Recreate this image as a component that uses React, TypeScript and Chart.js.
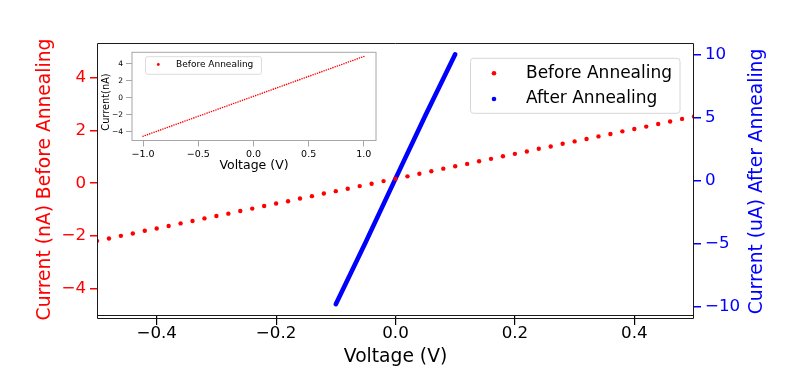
import React, { useEffect, useRef } from "react";
import { Chart, registerables } from "chart.js";

Chart.register(...registerables);

// ---- Data ----
const voltage = [
  -1.0, -0.98, -0.96, -0.94, -0.92, -0.9, -0.88, -0.86, -0.84, -0.82,
  -0.8, -0.78, -0.76, -0.74, -0.72, -0.7, -0.68, -0.66, -0.64, -0.62,
  -0.6, -0.58, -0.56, -0.54, -0.52, -0.5, -0.48, -0.46, -0.44, -0.42,
  -0.4, -0.38, -0.36, -0.34, -0.32, -0.3, -0.28, -0.26, -0.24, -0.22,
  -0.2, -0.18, -0.16, -0.14, -0.12, -0.1, -0.08, -0.06, -0.04, -0.02,
  0.0, 0.02, 0.04, 0.06, 0.08, 0.1, 0.12, 0.14, 0.16, 0.18,
  0.2, 0.22, 0.24, 0.26, 0.28, 0.3, 0.32, 0.34, 0.36, 0.38,
  0.4, 0.42, 0.44, 0.46, 0.48, 0.5, 0.52, 0.54, 0.56, 0.58,
  0.6, 0.62, 0.64, 0.66, 0.68, 0.7, 0.72, 0.74, 0.76, 0.78,
  0.8, 0.82, 0.84, 0.86, 0.88, 0.9, 0.92, 0.94, 0.96, 0.98,
  1.0,
];

// Current before annealing (nA)
const currentBefore = [
  -4.53, -4.44, -4.34, -4.25, -4.15, -4.06, -3.97, -3.87, -3.78, -3.68,
  -3.59, -3.5, -3.4, -3.31, -3.21, -3.12, -3.03, -2.93, -2.84, -2.74,
  -2.65, -2.56, -2.46, -2.37, -2.27, -2.18, -2.09, -1.99, -1.9, -1.8,
  -1.71, -1.62, -1.52, -1.43, -1.33, -1.24, -1.15, -1.05, -0.96, -0.86,
  -0.77, -0.68, -0.58, -0.49, -0.39, -0.3, -0.21, -0.11, -0.02, 0.08,
  0.17, 0.26, 0.36, 0.45, 0.55, 0.64, 0.73, 0.83, 0.92, 1.02,
  1.11, 1.2, 1.3, 1.39, 1.49, 1.58, 1.67, 1.77, 1.86, 1.96,
  2.05, 2.14, 2.24, 2.33, 2.43, 2.52, 2.61, 2.71, 2.8, 2.9,
  2.99, 3.08, 3.18, 3.27, 3.37, 3.46, 3.55, 3.65, 3.74, 3.84,
  3.93, 4.02, 4.12, 4.21, 4.31, 4.4, 4.49, 4.59, 4.68, 4.78,
  4.87,
];

// After annealing (uA) – dense sweep
const voltageAfter = [-0.1, -0.05, 0.0, 0.05, 0.1];
const currentAfter = [-9.8, -4.9, 0.15, 5.15, 10.0];

const xTicksMain = [-0.4, -0.2, 0.0, 0.2, 0.4];
const yTicksBefore = [-4, -2, 0, 2, 4];
const yTicksAfter = [-10, -5, 0, 5, 10];
const xTicksInset = [-1.0, -0.5, 0.0, 0.5, 1.0];
const yTicksInset = [-4, -2, 0, 2, 4];

const labelBefore = "Before Annealing";
const labelAfter = "After Annealing";

// ---- Styling helpers ----
const FONT = "'DejaVu Sans', 'Liberation Sans', sans-serif";
const RED = "#ff0000";
const BLUE = "#0000ff";

const fmt = (v: number, d: number) =>
  (v < -1e-9 ? "\u2212" : "") + Math.abs(v).toFixed(d);

const setTicks = (vals: number[]) => (s: any) => {
  s.ticks = vals.map((v) => ({ value: v }));
};

export default function App() {
  const mainRef = useRef<HTMLCanvasElement>(null);
  const insetRef = useRef<HTMLCanvasElement>(null);

  useEffect(() => {
    const beforePts = voltage.map((v, i) => ({ x: v, y: currentBefore[i] }));
    const afterPts = voltageAfter.map((v, i) => ({ x: v, y: currentAfter[i] }));

    const mainFrame = {
      id: "mainFrame",
      afterDatasetsDraw(chart: any) {
        const { ctx, chartArea: a } = chart;
        ctx.save();
        ctx.strokeStyle = "#1a1a1a";
        ctx.lineWidth = 1;
        ctx.beginPath();
        ctx.moveTo(a.left + 0.5, a.bottom + 2.5);
        ctx.lineTo(a.left + 0.5, a.top + 0.5);
        ctx.lineTo(a.right - 0.5, a.top + 0.5);
        ctx.lineTo(a.right - 0.5, a.bottom + 2.5);
        ctx.lineTo(a.left + 0.5, a.bottom + 2.5);
        ctx.moveTo(a.left, a.bottom - 0.5);
        ctx.lineTo(a.right, a.bottom - 0.5);
        ctx.stroke();
        ctx.restore();
      },
      afterDraw(chart: any) {
        const { ctx, chartArea: a } = chart;
        ctx.save();
        // right axis title (rotated bottom-to-top)
        ctx.fillStyle = BLUE;
        ctx.font = `18.7px ${FONT}`;
        ctx.textAlign = "center";
        ctx.textBaseline = "middle";
        ctx.translate(757, (a.top + a.bottom) / 2 + 2);
        ctx.rotate(-Math.PI / 2);
        ctx.fillText("Current (uA) After Annealing", 0, 0);
        ctx.restore();

        // legend
        ctx.save();
        const bx = 470.5, by = 58.3, bw = 209.5, bh = 55;
        ctx.beginPath();
        (ctx as any).roundRect(bx, by, bw, bh, 3);
        ctx.fillStyle = "rgba(255,255,255,0.8)";
        ctx.fill();
        ctx.strokeStyle = "#d6d6d6";
        ctx.lineWidth = 1;
        ctx.stroke();
        const items = chart.data.datasets.map((d: any) => ({ label: d.label, color: d.borderColor }));
        const ys = [73.3, 99];
        items.forEach((it: any, i: number) => {
          ctx.beginPath();
          ctx.arc(494, ys[i], 2.3, 0, Math.PI * 2);
          ctx.fillStyle = it.color;
          ctx.fill();
          ctx.fillStyle = "#000";
          ctx.font = `17px ${FONT}`;
          ctx.textAlign = "left";
          ctx.textBaseline = "middle";
          ctx.fillText(it.label, 526, ys[i]);
        });
        ctx.restore();
      },
    };

    const main = new Chart(mainRef.current!, {
      type: "scatter",
      data: {
        datasets: [
          {
            label: labelBefore,
            data: beforePts,
            yAxisID: "y",
            backgroundColor: RED,
            borderColor: RED,
            pointRadius: 2.2,
            pointBorderWidth: 0,
            showLine: false,
            clip: 0,
          } as any,
          {
            label: labelAfter,
            data: afterPts,
            yAxisID: "y2",
            backgroundColor: BLUE,
            borderColor: BLUE,
            showLine: true,
            borderWidth: 4.6,
            borderCapStyle: "round",
            pointRadius: 0,
            clip: 0,
          } as any,
        ],
      },
      options: {
        animation: false,
        responsive: false,
        maintainAspectRatio: false,
        layout: { padding: { top: 43, left: 0, right: 0, bottom: 0 } },
        plugins: { legend: { display: false }, tooltip: { enabled: false } },
        scales: {
          x: {
            type: "linear",
            min: -0.5,
            max: 0.5,
            afterFit: (s: any) => { s.height = 62; },
            afterBuildTicks: setTicks(xTicksMain),
            border: { display: false },
            grid: { drawOnChartArea: false, drawTicks: true, tickLength: 9, color: "#000", lineWidth: 1.2 },
            ticks: { color: "#000", font: { family: FONT, size: 16.7 }, padding: -1, maxRotation: 0, callback: (v: any) => fmt(Number(v), 1) },
            title: { display: true, text: "Voltage (V)", color: "#000", font: { family: FONT, size: 18.7 }, padding: { top: 0, bottom: 10 } },
          },
          y: {
            type: "linear",
            position: "left",
            min: -5.02,
            max: 5.3,
            afterFit: (s: any) => { s.width = 97; },
            afterBuildTicks: setTicks(yTicksBefore),
            border: { display: false },
            grid: { drawOnChartArea: false, drawTicks: true, tickLength: 7, color: RED, lineWidth: 1.5 },
            ticks: { color: RED, font: { family: FONT, size: 16.7 }, padding: 4, callback: (v: any) => fmt(Number(v), 0) },
            title: { display: true, text: "Current (nA) Before Annealing", color: RED, font: { family: FONT, size: 18.7 }, padding: { top: 34, bottom: 0 } },
          },
          y2: {
            type: "linear",
            position: "right",
            min: -10.74,
            max: 10.9,
            afterFit: (s: any) => { s.width = 91; },
            afterBuildTicks: setTicks(yTicksAfter),
            border: { display: false },
            grid: { drawOnChartArea: false, drawTicks: true, tickLength: 7, color: BLUE, lineWidth: 1.5 },
            ticks: { color: BLUE, font: { family: FONT, size: 16.7 }, padding: 4, callback: (v: any) => fmt(Number(v), 0) },
          },
        },
      } as any,
      plugins: [mainFrame],
    });

    const insetDeco = {
      id: "insetDeco",
      beforeDatasetsDraw(chart: any) {
        const { ctx, chartArea: a } = chart;
        ctx.save();
        ctx.fillStyle = "#fff";
        ctx.fillRect(a.left, a.top, a.right - a.left, a.bottom - a.top);
        ctx.restore();
      },
      afterDatasetsDraw(chart: any) {
        const { ctx, chartArea: a } = chart;
        ctx.save();
        ctx.strokeStyle = "#a6a6a6";
        ctx.lineWidth = 1;
        ctx.strokeRect(a.left, a.top, a.right - a.left, a.bottom - a.top);
        ctx.restore();
      },
      afterDraw(chart: any) {
        const { ctx } = chart;
        ctx.save();
        // y-axis title
        ctx.fillStyle = "#000";
        ctx.font = `9.8px ${FONT}`;
        ctx.textAlign = "center";
        ctx.textBaseline = "middle";
        ctx.translate(16.7, 58);
        ctx.rotate(-Math.PI / 2);
        ctx.fillText("Current(nA)", 0, 0);
        ctx.restore();

        ctx.save();
        ctx.beginPath();
        (ctx as any).roundRect(55.5, 12.7, 116, 17.6, 2);
        ctx.fillStyle = "rgba(255,255,255,0.8)";
        ctx.fill();
        ctx.strokeStyle = "#dcdcdc";
        ctx.lineWidth = 1;
        ctx.stroke();
        ctx.beginPath();
        ctx.arc(68.3, 20.5, 1.4, 0, Math.PI * 2);
        ctx.fillStyle = RED;
        ctx.fill();
        ctx.fillStyle = "#000";
        ctx.font = `9px ${FONT}`;
        ctx.textAlign = "left";
        ctx.textBaseline = "middle";
        ctx.fillText(chart.data.datasets[0].label, 86, 20.8);
        ctx.restore();
      },
    };

    const inset = new Chart(insetRef.current!, {
      type: "scatter",
      data: {
        datasets: [
          {
            label: labelBefore,
            data: beforePts,
            backgroundColor: RED,
            borderColor: RED,
            pointRadius: 0.8,
            pointBorderWidth: 0,
            showLine: false,
          } as any,
        ],
      },
      options: {
        animation: false,
        responsive: false,
        maintainAspectRatio: false,
        layout: { padding: { top: 8.3, left: 0, right: 14, bottom: 0 } },
        plugins: { legend: { display: false }, tooltip: { enabled: false } },
        scales: {
          x: {
            type: "linear",
            min: -1.1,
            max: 1.11,
            afterFit: (s: any) => { s.height = 38.5; },
            afterBuildTicks: setTicks(xTicksInset),
            border: { display: false },
            grid: { drawOnChartArea: false, drawTicks: true, tickLength: 6, color: "#a6a6a6", lineWidth: 1 },
            ticks: { color: "#000", font: { family: FONT, size: 9.5 }, padding: 2, maxRotation: 0, callback: (v: any) => fmt(Number(v), 1) },
            title: { display: true, text: "Voltage (V)", color: "#000", font: { family: FONT, size: 12.5 }, padding: { top: 0, bottom: 5.5 } },
          },
          y: {
            type: "linear",
            min: -5.03,
            max: 5.36,
            afterFit: (s: any) => { s.width = 42; },
            afterBuildTicks: setTicks(yTicksInset),
            border: { display: false },
            grid: { drawOnChartArea: false, drawTicks: true, tickLength: 6, color: "#a6a6a6", lineWidth: 1 },
            ticks: { color: "#000", font: { family: FONT, size: 7.5 }, padding: 3, callback: (v: any) => fmt(Number(v), 0) },
            title: { display: false },
          },
        },
      } as any,
      plugins: [insetDeco],
    });

    return () => {
      main.destroy();
      inset.destroy();
    };
  }, []);

  return (
    <div style={{ position: "absolute", left: 0, top: 0, width: 785, height: 378, background: "#fff" }}>
      <canvas
        ref={mainRef}
        width={785}
        height={378}
        style={{ position: "absolute", left: 0, top: 0, width: 785, height: 378 }}
      />
      <canvas
        ref={insetRef}
        width={300}
        height={135}
        style={{ position: "absolute", left: 90, top: 44, width: 300, height: 135 }}
      />
    </div>
  );
}
